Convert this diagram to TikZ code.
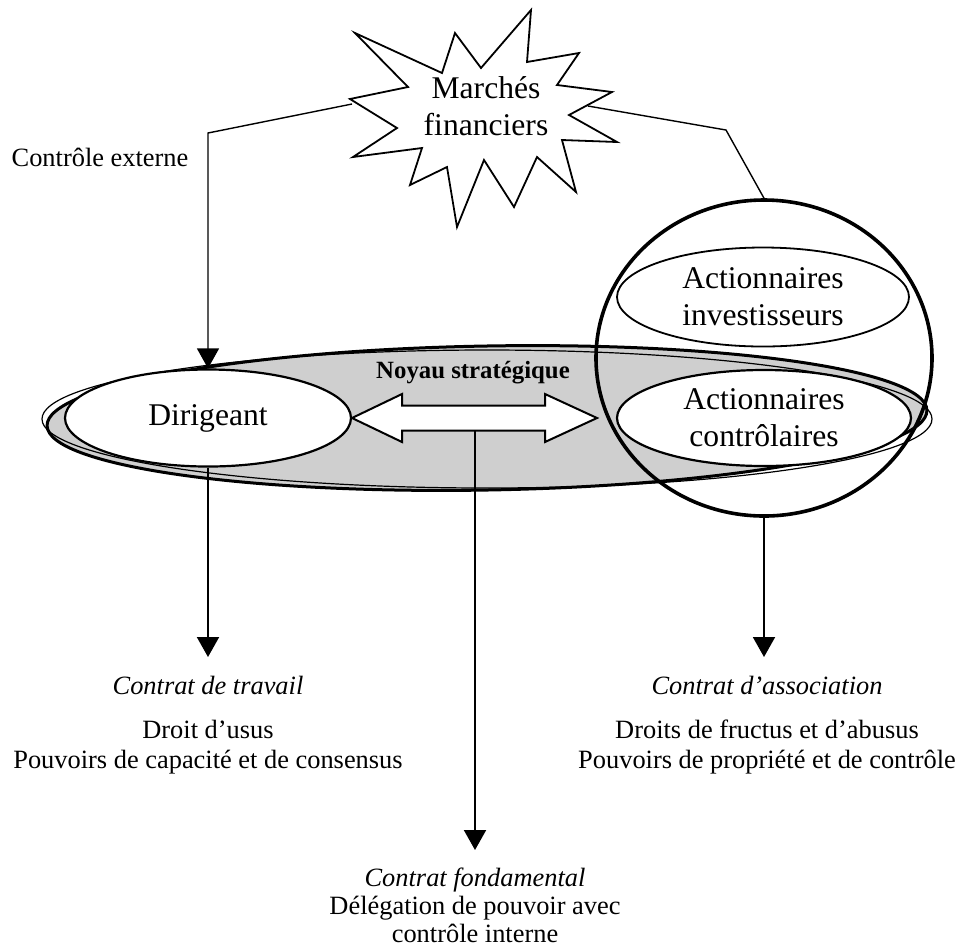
\documentclass[tikz,border=0pt]{standalone}
\usepackage{fontspec}
\setmainfont{Liberation Serif}
\usetikzlibrary{shapes.geometric,arrows.meta}
\tikzset{
  txt/.style={font=\fontsize{13.2}{15}\selectfont, align=center, inner sep=0pt},
  bigtxt/.style={font=\fontsize{15.8}{18.5}\selectfont, align=center, inner sep=0pt},
  oval/.style={ellipse, draw, inner sep=0pt, fill=white, line width=1.1pt},
  link/.style={line width=0.7pt},
  down/.style={->, line width=1pt}
}
\begin{document}
\begin{tikzpicture}[x=0.5pt, y=-0.5pt, >={Triangle[length=10pt,width=11pt]}]
\useasboundingbox (0,0) rectangle (959,950);
\node[ellipse, draw, line width=1.5pt, fill=gray!38, rotate=1, minimum width=440pt, minimum height=72pt] (noyau) at (487,418) {};
\draw[line width=0.6pt] (487,419) ellipse (445 and 69);
\draw[fill=white, line width=1pt] (352,418) -- (402,394) -- (402,405.5) -- (545,405.5) -- (545,394) -- (597,418)
  -- (545,442) -- (545,430.5) -- (402,430.5) -- (402,442) -- cycle;
\coordinate (fleche) at (475,430.5);
\node[font=\bfseries\fontsize{12.4}{14}\selectfont, inner sep=0pt] (noyaulbl) at (473,373) {Noyau stratégique};
\node[oval, bigtxt, minimum width=143pt, minimum height=48.5pt] (dir) at (208,418) {Dirigeant};
\node[oval, bigtxt, minimum width=147pt, minimum height=48pt] (ctrl) at (764,418) {Actionnaires\\contrôlaires};
\node[oval, bigtxt, line width=0.9pt, minimum width=146pt, minimum height=49.5pt] (inv) at (763,297) {Actionnaires\\investisseurs};
\node[ellipse, draw, line width=1.8pt, minimum width=168pt, minimum height=158pt] (circ) at (764,358) {};
\draw[fill=white, line width=0.9pt] (355,33) -- (442,73) -- (455,33) -- (481,68) -- (531,10) -- (527,62) -- (579,53)
  -- (557,85) -- (612,92) -- (569,115) -- (617,142) -- (562,140) -- (576,192) -- (537,157) -- (514,207) -- (484,160)
  -- (457,227) -- (447,167) -- (410,185) -- (422,148) -- (353,157) -- (397,128) -- (350,99) -- (408,87) -- cycle;
\node[bigtxt] (marches) at (486,106) {Marchés\\financiers};
\coordinate (starL) at (352,104);
\coordinate (starR) at (588,106);
\coordinate (coinL) at (208,133);
\coordinate (coinR) at (726,130);
\draw[link, ->] (starL) -- (coinL) -- (dir.north);
\draw[link] (starR) -- (coinR) -- (circ.north);
\coordinate (tipL) at (208,657);
\coordinate (tipM) at (475,850);
\coordinate (tipR) at (764,657);
\foreach \a/\b in {dir.south/tipL, fleche/tipM, circ.south/tipR}
    \draw[down] (\a) -- (\b);
\node[txt] (externe) at (100,157) {Contrôle externe};
\node[txt] (travail) at (208,685) {\itshape Contrat de travail};
\node[txt] (usus) at (208,747) {Droit d'usus\\Pouvoirs de capacité et de consensus};
\node[txt] (assoc) at (767,685) {\itshape Contrat d'association};
\node[txt] (fructus) at (767,747) {Droits de fructus et d'abusus\\Pouvoirs de propriété et de contrôle};
\node[txt, font=\fontsize{13.2}{14}\selectfont] (fond) at (475,905) {\textit{Contrat fondamental}\\Délégation de pouvoir avec\\contrôle interne};
\end{tikzpicture}
\end{document}
